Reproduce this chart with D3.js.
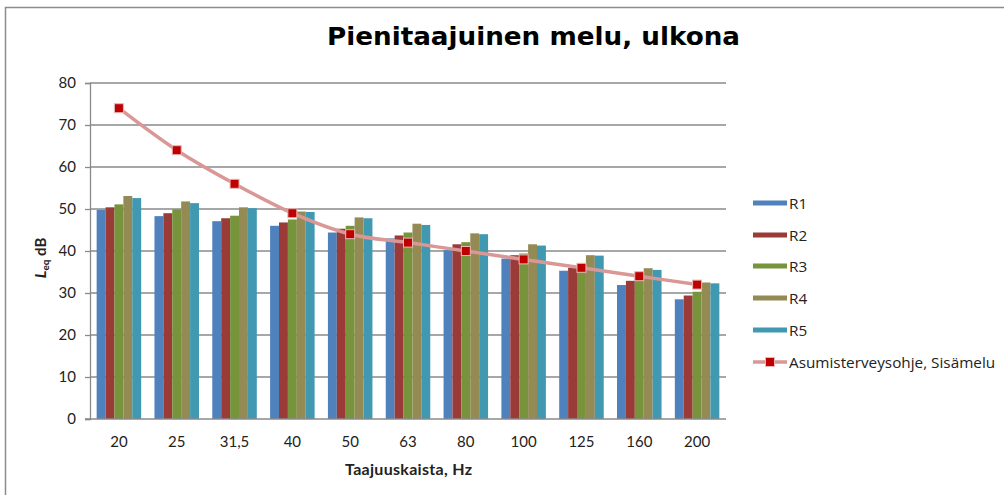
<!DOCTYPE html>
<html>
<head>
<meta charset="utf-8">
<script src="https://cdn.jsdelivr.net/npm/d3@7"></script>
<style>
  body { margin: 0; background: #fff; }
  svg { display: block; }
</style>
</head>
<body>
<svg width="1004" height="495"></svg>
<script>
// taajuuskaistat (Hz)
var bands = ["20", "25", "31,5", "40", "50", "63", "80", "100", "125", "160", "200"];
var seriesNames = ["R1", "R2", "R3", "R4", "R5"];
var r1 = [49.8, 48.3, 47.1, 46.0, 44.4, 43.0, 40.2, 38.2, 35.3, 31.9, 28.5];
var r2 = [50.4, 49.0, 47.8, 46.8, 45.3, 43.7, 41.6, 39.0, 36.0, 32.9, 29.4];
var r3 = [51.1, 49.9, 48.4, 47.5, 46.0, 44.4, 42.1, 39.4, 36.3, 33.5, 30.3];
var r4 = [53.1, 51.8, 50.4, 49.4, 48.0, 46.5, 44.2, 41.6, 39.0, 35.9, 32.5];
var r5 = [52.6, 51.4, 50.2, 49.3, 47.8, 46.2, 44.0, 41.3, 38.9, 35.5, 32.3];
var guideName = "Asumisterveysohje, Sisämelu";
var guide = [74, 64, 56, 49, 44, 42, 40, 38, 36, 34, 32];
var yTicks = [0, 10, 20, 30, 40, 50, 60, 70, 80];

var colors = ["#4F81BD", "#9B3B38", "#77933C", "#948A54", "#4199B1"];
var allSeries = [r1, r2, r3, r4, r5];

var svg = d3.select("svg");
var font = "Lato, 'Open Sans', sans-serif";

// chart frame
svg.append("path")
    .attr("d", "M5.5,495 L5.5,7.5 L1004,7.5")
    .attr("fill", "none")
    .attr("stroke", "#8c8c8c")
    .attr("stroke-width", 1.5);

var x0 = d3.scaleBand().domain(bands).range([90, 726]).paddingInner(0.23).paddingOuter(0.115);
var x1 = d3.scaleBand().domain(seriesNames).range([0, x0.bandwidth()]);
var y = d3.scaleLinear().domain([0, 80]).range([419, 83]);

// gridlines
svg.append("g")
  .selectAll("line")
  .data(yTicks.slice(1))
  .enter().append("line")
    .attr("x1", 90).attr("x2", 726)
    .attr("y1", d => y(d)).attr("y2", d => y(d))
    .attr("stroke", "#8a8a8a")
    .attr("stroke-width", 1.3);

// bars
var groups = svg.append("g").selectAll("g")
  .data(bands)
  .enter().append("g")
    .attr("transform", d => "translate(" + x0(d) + ",0)");

groups.selectAll("rect")
  .data((d, i) => allSeries.map((s, j) => ({ name: seriesNames[j], v: s[i], c: colors[j] })))
  .enter().append("rect")
    .attr("x", d => x1(d.name))
    .attr("width", x1.bandwidth())
    .attr("y", d => y(d.v))
    .attr("height", d => y(0) - y(d.v))
    .attr("fill", d => d.c);

// y axis
var yAxis = svg.append("g")
    .attr("transform", "translate(90,0)")
    .call(d3.axisLeft(y).tickValues(yTicks).tickSize(5).tickPadding(9));
yAxis.select(".domain").attr("stroke", "#8a8a8a").attr("stroke-width", 1.3);
yAxis.selectAll(".tick line").attr("stroke", "#8a8a8a").attr("stroke-width", 1.3);
yAxis.selectAll("text")
    .attr("font-family", font)
    .attr("font-size", 15)
    .attr("fill", "#222");

// x axis
var xAxis = svg.append("g")
    .attr("transform", "translate(0,419)")
    .call(d3.axisBottom(x0).tickSize(0).tickPadding(17));
xAxis.select(".domain").attr("stroke", "#8a8a8a").attr("stroke-width", 1.5).attr("d", "M85,0H726");
xAxis.selectAll("text")
    .attr("font-family", font)
    .attr("font-size", 15)
    .attr("fill", "#222");

// guide line, smoothed
var cx = d => x0(d) + x0.bandwidth() / 2;
var line = d3.line()
    .x((d, i) => cx(bands[i]))
    .y(d => y(d))
    .curve(d3.curveCatmullRom.alpha(0.5));

svg.append("path")
    .datum(guide)
    .attr("d", line)
    .attr("fill", "none")
    .attr("stroke", "#D99795")
    .attr("stroke-width", 3.5);

svg.append("g").selectAll("rect")
  .data(guide)
  .enter().append("rect")
    .attr("x", (d, i) => cx(bands[i]) - 4.5)
    .attr("y", d => y(d) - 4.5)
    .attr("width", 9).attr("height", 9)
    .attr("fill", "#C00000")
    .attr("stroke", "#E6B9B8")
    .attr("stroke-width", 1);

// title
svg.append("text")
    .attr("x", 327).attr("y", 45)
    .attr("font-family", "'DejaVu Sans', Verdana, sans-serif")
    .attr("font-weight", "bold")
    .attr("font-size", 25.5)
    .attr("textLength", 413)
    .attr("lengthAdjust", "spacingAndGlyphs")
    .attr("fill", "#000")
    .text("Pienitaajuinen melu, ulkona");

// axis titles
svg.append("text")
    .attr("x", 345).attr("y", 475)
    .attr("font-family", font)
    .attr("font-weight", "bold")
    .attr("font-size", 16)
    .attr("textLength", 127)
    .attr("lengthAdjust", "spacing")
    .attr("fill", "#222")
    .text("Taajuuskaista,  Hz");

var yl = svg.append("text")
    .attr("transform", "translate(46,258) rotate(-90)")
    .attr("text-anchor", "middle")
    .attr("font-family", font)
    .attr("font-weight", "bold")
    .attr("font-size", 15)
    .attr("fill", "#222");
yl.append("tspan").attr("font-style", "italic").attr("font-size", 16).text("L");
yl.append("tspan").attr("font-size", 10).attr("dy", 3).text("eq");
yl.append("tspan").attr("dy", -3).text(" dB");

// legend
var legend = svg.append("g").attr("transform", "translate(753,0)");
var rowY = [203, 235, 266, 298, 330, 362];

legend.selectAll("rect.sw")
  .data(seriesNames)
  .enter().append("rect")
    .attr("class", "sw")
    .attr("x", 0).attr("y", (d, i) => rowY[i] - 2.5)
    .attr("width", 34).attr("height", 5)
    .attr("fill", (d, i) => colors[i]);

legend.append("line")
    .attr("x1", 0).attr("x2", 34)
    .attr("y1", rowY[5]).attr("y2", rowY[5])
    .attr("stroke", "#D99795").attr("stroke-width", 3.5);
legend.append("rect")
    .attr("x", 12.5).attr("y", rowY[5] - 4.5)
    .attr("width", 9).attr("height", 9)
    .attr("fill", "#C00000").attr("stroke", "#E6B9B8");

legend.selectAll("text")
  .data(seriesNames.concat([guideName]))
  .enter().append("text")
    .attr("x", 36).attr("y", (d, i) => rowY[i] + 6)
    .attr("font-family", "'Open Sans', sans-serif")
    .attr("font-size", 15.3)
    .attr("fill", "#222")
    .text(d => d);
</script>
</body>
</html>
